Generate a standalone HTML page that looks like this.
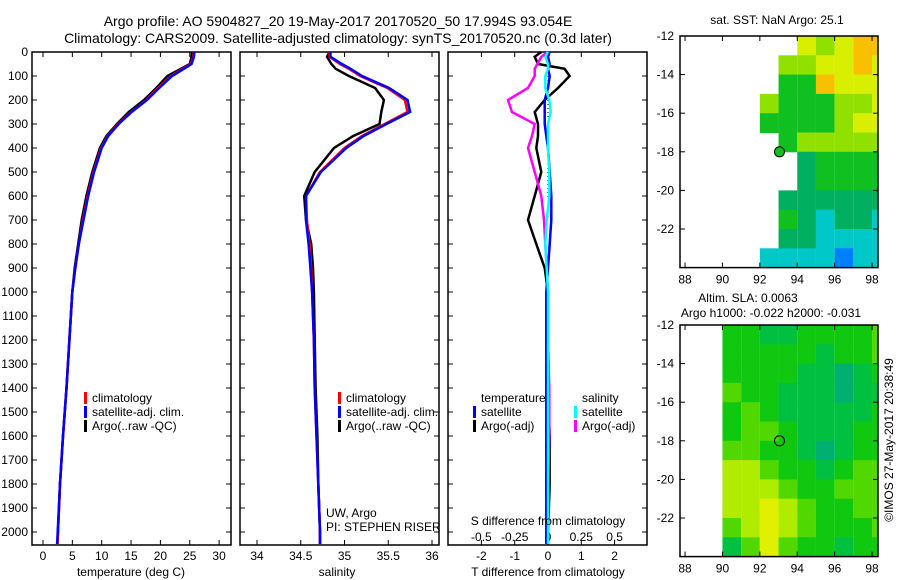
<!DOCTYPE html>
<html><head><meta charset="utf-8"><style>
body{margin:0;background:#fff}
svg{display:block;font-family:"Liberation Sans",sans-serif;font-size:12px}
</style></head><body>
<svg id="c" width="900" height="580" viewBox="0 0 900 580">
<text x="338" y="26" text-anchor="middle" font-size="14">Argo profile: AO 5904827_20 19-May-2017 20170520_50 17.994S 93.054E</text>
<text x="338" y="43" text-anchor="middle" font-size="14">Climatology: CARS2009. Satellite-adjusted climatology: synTS_20170520.nc (0.3d later)</text>
<g id="g"></g>
</svg>
<script>
const depths=[0,20,50,70,100,150,200,250,300,350,400,500,600,700,800,900,1000,1200,1400,1600,1800,2000,2050];
const tClim=[25.7,25.6,25.2,23.8,21.8,19.6,17.6,15,12.8,11,9.9,8.6,7.6,6.8,6.1,5.5,5.0,4.5,4.0,3.4,2.9,2.55,2.45];
const tSat=[25.8,25.7,25.3,24.0,22.0,19.8,17.7,15.1,12.9,11.1,10.0,8.7,7.7,6.9,6.1,5.5,5.0,4.5,4.0,3.4,2.9,2.5,2.4];
const tArgo=[25.4,25.3,25.0,23.5,21.2,19.3,17.2,14.6,12.6,10.8,9.7,8.4,7.4,6.6,6.0,5.4,5.0,4.5,4.0,3.4,2.9,2.55,2.45];
const sClim=[34.83,34.83,34.95,35.05,35.18,35.49,35.69,35.72,35.46,35.2,35.0,34.72,34.56,34.57,34.6,34.62,34.63,34.65,34.66,34.68,34.7,34.72,34.72];
const sSat=[34.84,34.84,34.97,35.07,35.2,35.51,35.72,35.75,35.48,35.22,35.02,34.73,34.56,34.56,34.59,34.61,34.63,34.65,34.66,34.68,34.7,34.72,34.72];
const sArgo=[34.83,34.8,34.85,34.9,35.05,35.35,35.45,35.42,35.4,35.1,34.88,34.66,34.54,34.56,34.62,34.64,34.65,34.66,34.67,34.69,34.7,34.72,34.72];
const tDiffSat=[0.05,0.0,0.05,0.0,0.05,0.0,-0.1,-0.1,-0.1,-0.05,0.0,0.05,0.1,0.1,0.05,0,-0.05,-0.05,-0.05,-0.05,-0.05,-0.05,-0.05];
const tDiffArgo=[-0.2,-0.4,-0.3,0.5,0.65,0.3,-0.1,-0.4,-0.3,-0.3,-0.35,-0.2,-0.4,-0.6,-0.35,-0.1,0.0,0.0,0.0,0.05,0.05,0.0,0.0];
const sDiffSat=[0,-0.02,0,0,-0.02,-0.02,0.01,0.02,0,0,0,0.01,0.01,-0.01,-0.02,-0.01,0,0,0,0,0,0,0];
const sDiffArgo=[0,-0.05,-0.08,-0.1,-0.1,-0.15,-0.3,-0.27,-0.1,-0.12,-0.15,-0.1,-0.05,-0.03,-0.02,-0.01,0,0,0.01,0.01,0,0,0];
const depthTicks=[0,100,200,300,400,500,600,700,800,900,1000,1100,1200,1300,1400,1500,1600,1700,1800,1900,2000];
const tTicks=[0,5,10,15,20,25,30];
const sTicks=[34,34.5,35,35.5,36];
const dTTicks=[-2,-1,0,1,2];
const dSTicks=[-0.5,-0.25,0,0.25,0.5];
const dSTickLabels=["-0.5","-0.25","0","0.25","0.5"];
const lonTicks=[88,90,92,94,96,98];
const latTicks=[-12,-14,-16,-18,-20,-22];
const sstGrid=[
[null,null,null,null,null,null,5,4,5,6,6],
[null,null,null,null,null,4,4,5,5,6,5],
[null,null,null,null,null,3,3,6,5,5,5],
[null,null,null,null,4,3,3,3,4,4,5],
[null,null,null,null,3,3,3,3,4,5,5],
[null,null,null,null,null,3,4,4,4,4,4],
[null,null,null,null,null,null,2,3,3,3,3],
[null,null,null,null,null,null,2,3,3,3,3],
[null,null,null,null,null,2,2,2,2,2,2],
[null,null,null,null,null,3,2,1,2,2,1],
[null,null,null,null,null,2,2,1,1,1,1],
[null,null,null,null,1,1,1,1,0,1,1]];
const slaGrid=[
[null,null,3,3,2,2,3,3,3,3,4],
[null,null,3,3,3,3,3,2,3,3,4],
[null,null,3,3,3,3,2,2,1,2,3],
[null,null,4,3,3,2,2,2,1,2,2],
[null,null,3,4,3,2,2,2,2,2,3],
[null,null,3,4,4,3,2,2,2,3,3],
[null,null,4,4,3,3,2,1,2,3,3],
[null,null,5,5,4,3,3,2,3,4,4],
[null,null,5,5,5,4,3,3,4,4,4],
[null,null,5,5,6,5,4,3,3,4,4],
[null,null,4,5,6,5,4,3,3,3,4],
[null,null,2,4,6,4,3,3,2,3,3]];
const sstColors=["#0080ff","#00c8c8","#00b060","#10c020","#90e000","#d8f000","#f8c000"];
const slaColors=["#00a080","#00b070","#00c040","#10c810","#50d800","#b0ec00","#e0f000"];

const NS="http://www.w3.org/2000/svg";const G=document.getElementById('g');
function mk(t,a,p){const e=document.createElementNS(NS,t);for(const k in a)e.setAttribute(k,a[k]);(p||G).appendChild(e);return e;}
const yD=d=>52+d*0.24;
function panel(x0,x1,name){const r=mk('rect',{x:x0,y:52,width:x1-x0,height:493,fill:'none',stroke:'#000','stroke-width':1.5});

}
function line(xs,xf,col,name){const pts=depths.map((d,i)=>xf(xs[i]).toFixed(1)+','+yD(d).toFixed(1)).join(' ');
const p=mk('polyline',{points:pts,fill:'none',stroke:col,'stroke-width':2.5});

}
function txt(x,y,s,anc,extra){const t=mk('text',Object.assign({x:x,y:y,'text-anchor':anc||'start'},extra||{}));t.textContent=s;

return t;}
function dticks(x0,x1,lab){depthTicks.forEach(d=>{mk('line',{x1:x0,x2:x0+5,y1:yD(d),y2:yD(d),stroke:'#000'});mk('line',{x1:x1,x2:x1-5,y1:yD(d),y2:yD(d),stroke:'#000'});if(lab)txt(28,yD(d)+4,String(d),'end');});}
function xticks(vals,xf,y,labs){vals.forEach((v,i)=>{const x=xf(v);mk('line',{x1:x,x2:x,y1:545,y2:540,stroke:'#000'});mk('line',{x1:x,x2:x,y1:52,y2:57,stroke:'#000'});txt(x,y,labs?labs[i]:String(v),'middle');});}
function legend(x,y,items){items.forEach((it,i)=>{const r=mk('rect',{x:x,y:y+i*14-10,width:3,height:12,fill:it[1]});


txt(x+8,y+i*14,it[0]);});}

const xT=v=>43+v*5.87;
panel(32,231,'temperature-panel');dticks(32,231,true);xticks(tTicks,xT,560);
line(tArgo,xT,'#000','temp-argo-line');line(tClim,xT,'#f00','temp-clim-line');line(tSat,xT,'#00f','temp-sat-line');
txt(131,576,'temperature (deg C)','middle');
legend(84,402,[['climatology','#f00'],['satellite-adj. clim.','#00f'],['Argo(..raw -QC)','#000']]);
const xS=v=>257+(v-34)*87.5;
panel(240,439,'salinity-panel');dticks(240,439,false);xticks(sTicks,xS,560);
line(sArgo,xS,'#000','sal-argo-line');line(sClim,xS,'#f00','sal-clim-line');line(sSat,xS,'#00f','sal-sat-line');
txt(337,576,'salinity','middle');
legend(338,402,[['climatology','#f00'],['satellite-adj. clim.','#00f'],['Argo(..raw -QC)','#000']]);
txt(326,517,'UW, Argo');txt(326,531,'PI: STEPHEN RISER');
const xDT=v=>548+v*33.3, xDS=v=>548+v*133.2;
panel(448,647,'difference-panel');dticks(448,647,false);xticks(dTTicks,xDT,560);
dSTicks.forEach((v,i)=>txt(xDS(v),541,dSTickLabels[i],'middle'));
mk('line',{x1:548,x2:548,y1:yD(50),y2:yD(700),stroke:'#000','stroke-dasharray':'1,3'});
line(tDiffArgo,xDT,'#000','tdiff-argo-line');line(sDiffArgo,xDS,'#f0f','sdiff-argo-line');
line(tDiffSat,xDT,'#00f','tdiff-sat-line');line(sDiffSat,xDS,'#0ff','sdiff-sat-line');
txt(548,525,'S difference from climatology','middle');
txt(548,576,'T difference from climatology','middle');
txt(481,402,'temperature');txt(582,402,'salinity');
legend(473,416,[['satellite','#00f'],['Argo(-adj)','#000']]);
legend(574,416,[['satellite','#0ff'],['Argo(-adj)','#f0f']]);
const xL=v=>680+(v-87.73)*18.7;
function map(y0,grid,cols,name,filled){
 const yL=v=>y0+(-12-v)*19.3;
 grid.forEach((row,r)=>row.forEach((c,k)=>{if(c===null)return;const lon=88+k,x=xL(lon),x2=Math.min(xL(lon+1),878);
  const e=mk('rect',{x:x,y:yL(-12-r),width:x2-x,height:yL(-13-r)-yL(-12-r)+0.5,fill:cols[c]});
  
  }));
 const b=mk('rect',{x:680,y:y0,width:198,height:yL(-24)-y0,fill:'none',stroke:'#000','stroke-width':1.5});
 
 
 lonTicks.forEach(v=>{mk('line',{x1:xL(v),x2:xL(v),y1:yL(-24),y2:yL(-24)-5,stroke:'#000'});mk('line',{x1:xL(v),x2:xL(v),y1:y0,y2:y0+5,stroke:'#000'});txt(xL(v),yL(-24)+16,String(v),'middle');});
 latTicks.forEach(v=>{mk('line',{x1:680,x2:685,y1:yL(v),y2:yL(v),stroke:'#000'});mk('line',{x1:878,x2:873,y1:yL(v),y2:yL(v),stroke:'#000'});txt(674,yL(v)+4,String(v),'end');});
 const m=mk('circle',{cx:xL(93.05),cy:yL(-18),r:5,fill:filled?'#10c020':'none',stroke:'#000'});
 
 
}
map(36,sstGrid,sstColors,'sst-map',true);
map(325,slaGrid,slaColors,'sla-map',false);
txt(777,24,'sat. SST: NaN Argo: 25.1','middle');
txt(748,302,'Altim. SLA: 0.0063','middle');
txt(771,317,'Argo h1000: -0.022 h2000: -0.031','middle');
txt(0,0,'©IMOS 27-May-2017 20:38:49','middle',{transform:'translate(893,440) rotate(-90)'});
</script>
</body></html>
